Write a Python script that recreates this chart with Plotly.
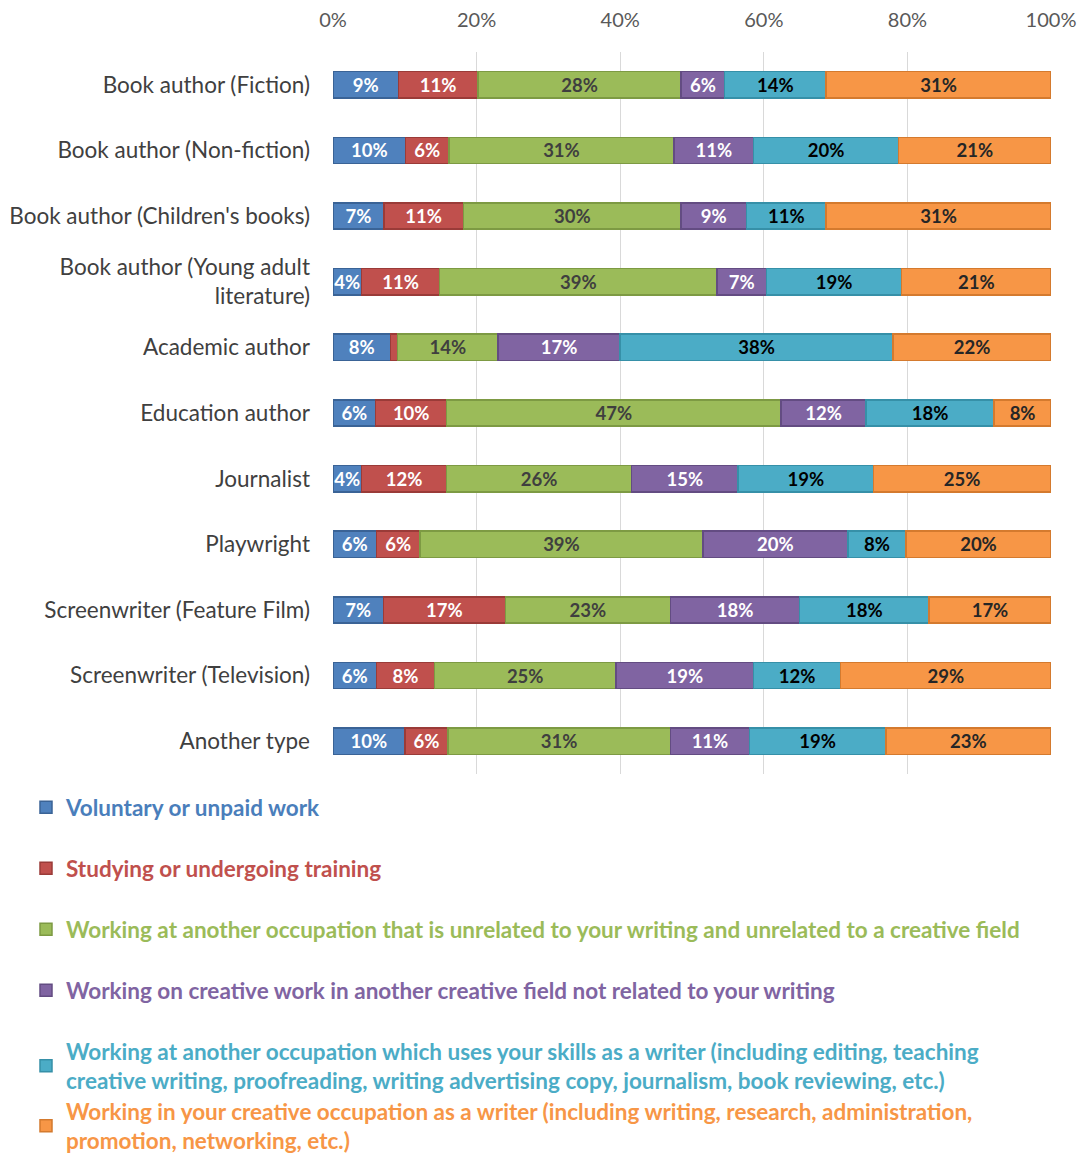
import plotly.graph_objects as go

categories = [
    "Book author (Fiction)",
    "Book author (Non-fiction)",
    "Book author (Children's books)",
    "Book author (Young adult<br>literature)",
    "Academic author",
    "Education author",
    "Journalist",
    "Playwright",
    "Screenwriter (Feature Film)",
    "Screenwriter (Television)",
    "Another type",
]

series_names = [
    "Voluntary or unpaid work",
    "Studying or undergoing training",
    "Working at another occupation that is unrelated to your writing and unrelated to a creative field",
    "Working on creative work in another creative field not related to your writing",
    "Working at another occupation which uses your skills as a writer (including editing, teaching<br>creative writing, proofreading, writing advertising copy, journalism, book reviewing, etc.)",
    "Working in your creative occupation as a writer (including writing, research, administration,<br>promotion, networking, etc.)",
]

voluntary = [9, 10, 7, 4, 8, 6, 4, 6, 7, 6, 10]
studying = [11, 6, 11, 11, 1, 10, 12, 6, 17, 8, 6]
unrelated = [28, 31, 30, 39, 14, 47, 26, 39, 23, 25, 31]
creative_other = [6, 11, 9, 7, 17, 12, 15, 20, 18, 19, 11]
writer_skills = [14, 20, 11, 19, 38, 18, 19, 8, 18, 12, 19]
writer_creative = [31, 21, 31, 21, 22, 8, 25, 20, 17, 29, 23]

tick_values = [0, 20, 40, 60, 80, 100]
tick_labels = ["0%", "20%", "40%", "60%", "80%", "100%"]

series_values = [voluntary, studying, unrelated, creative_other, writer_skills, writer_creative]
colors = ["#4F81BD", "#C0504D", "#9BBB59", "#8064A2", "#4BACC6", "#F79646"]
edge_colors = ["#3A6396", "#9A3B38", "#7D9A43", "#634C82", "#3690A8", "#D47A2E"]
text_colors = ["#FFFFFF", "#FFFFFF", "#3F3F3F", "#FFFFFF", "#000000", "#262626"]
legend_text_colors = ["#4A7EBB", "#C0504D", "#9BBB59", "#8064A2", "#4BACC6", "#F79646"]

FONT = "Lato"

fig = go.Figure()
legend_ids = ["legend", "legend2", "legend3", "legend4", "legend5", "legend6"]
for i, (name, vals) in enumerate(zip(series_names, series_values)):
    texts = [f"{v}%" if v >= 3 else "" for v in vals]
    fig.add_trace(go.Bar(
        y=categories,
        x=vals,
        orientation="h",
        name=f'<span style="color:{legend_text_colors[i]}"><b>{name}</b></span>',
        marker=dict(color=colors[i], line=dict(color=edge_colors[i], width=1.5)),
        text=texts,
        textposition="inside",
        insidetextanchor="middle",
        textangle=0,
        textfont=dict(family=FONT, size=18.5, color=text_colors[i], weight="bold"),
        width=0.4,
        legend=legend_ids[i],
        hoverinfo="x+y",
    ))

W, H = 1084, 1155
plot_left, plot_w = 333, 718
plot_top, plot_bot = 52, 774
ph = plot_bot - plot_top
ref_line_centers = [808, 869, 930, 991, 1052, 1112]
legend_layout = {}
for i, lid in enumerate(legend_ids):
    top_px = ref_line_centers[i] - 22
    legend_layout[lid] = dict(
        x=(26 - plot_left) / plot_w,
        xanchor="left",
        y=(plot_bot - top_px) / ph,
        yanchor="top",
        font=dict(family=FONT, size=22.5),
        bgcolor="rgba(0,0,0,0)",
        itemclick=False,
    )

fig.update_layout(
    width=W,
    height=H,
    barmode="stack",
    barnorm="percent",
    plot_bgcolor="white",
    paper_bgcolor="white",
    margin=dict(l=plot_left, r=W - plot_left - plot_w, t=plot_top, b=H - plot_bot, autoexpand=False),
    uniformtext=dict(minsize=18.5, mode="show"),
    font=dict(family=FONT),
    showlegend=True,
    xaxis=dict(
        side="top",
        range=[0, 100],
        tickvals=tick_values,
        ticktext=tick_labels,
        tickfont=dict(family=FONT, size=20, color="#595959"),
        ticklabelstandoff=20,
        ticklabeloverflow="allow",
        showgrid=True,
        gridcolor="#D9D9D9",
        gridwidth=1,
        zeroline=False,
        showline=False,
        fixedrange=True,
        automargin=False,
    ),
    yaxis=dict(
        autorange="reversed",
        tickfont=dict(family=FONT, size=22.5, color="#404040"),
        showgrid=False,
        ticks="",
        ticklabelstandoff=22,
        fixedrange=True,
        automargin=False,
    ),
    **legend_layout,
)

fig.write_html(
    "out.html",
    config={"displayModeBar": False},
    post_script="document.body.style.margin='0';document.body.style.overflow='hidden';",
)
